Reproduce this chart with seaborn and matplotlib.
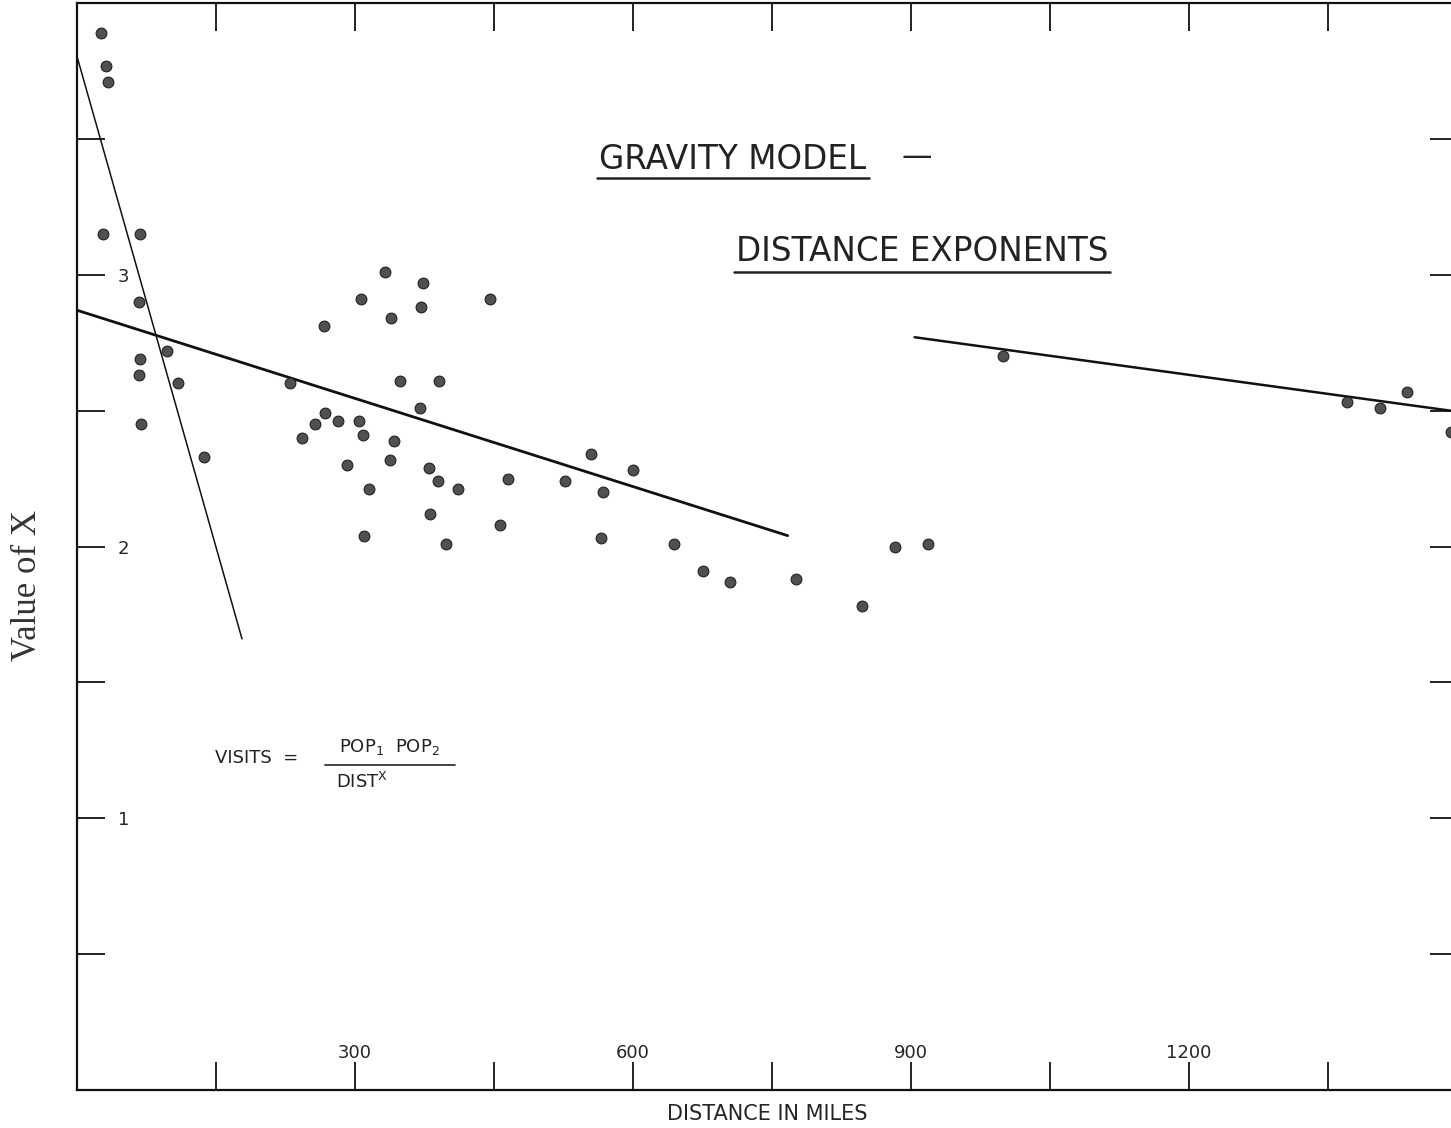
import matplotlib
matplotlib.use("Agg")
import matplotlib.pyplot as plt
from matplotlib.lines import Line2D
import seaborn as sns
import pandas as pd

# distance between city pairs (miles) and fitted distance exponent X
distance = [26, 32, 34, 29, 68, 67, 98, 68, 67, 110, 70, 137,
            230, 257, 243, 333, 374, 307, 446, 372, 339, 267, 349, 391,
            371, 268, 282, 305, 309, 342, 292, 338, 380, 390, 412, 465,
            527, 316, 381, 457, 310, 399,
            555, 600, 568, 566, 644, 676, 705, 776, 847, 883, 918,
            999, 1370, 1406, 1435, 1482]
exponent = [3.89, 3.77, 3.71, 3.15, 3.15, 2.90, 2.72, 2.69, 2.63, 2.60, 2.45, 2.33,
            2.60, 2.45, 2.40, 3.01, 2.97, 2.91, 2.91, 2.88, 2.84, 2.81, 2.61, 2.61,
            2.51, 2.49, 2.46, 2.46, 2.41, 2.39, 2.30, 2.32, 2.29, 2.24, 2.21, 2.25,
            2.24, 2.21, 2.12, 2.08, 2.04, 2.01,
            2.34, 2.28, 2.20, 2.03, 2.01, 1.91, 1.87, 1.88, 1.78, 2.00, 2.01,
            2.70, 2.53, 2.51, 2.57, 2.42]

# hand-fitted lines (end points)
steep_x = [0, 178.5]
steep_y = [3.81, 1.66]
mid_x = [0, 767]
mid_y = [2.87, 2.04]
far_x = [904, 1490]
far_y = [2.77, 2.496]

x_ticks = [150, 300, 450, 600, 750, 900, 1050, 1200, 1350]
x_tick_labels = ["", "300", "", "600", "", "900", "", "1200", ""]
y_ticks = [0.5, 1.0, 1.5, 2.0, 2.5, 3.0, 3.5]
y_tick_labels = ["", "1", "", "2", "", "3", ""]

W, H = 1451, 1128

sns.set_style("white")
plt.rcParams["font.family"] = ["DejaVu Sans"]

fig = plt.figure(figsize=(W / 100, H / 100), dpi=100)
ax = fig.add_axes([76.5 / W, 38 / H, (1458 - 76.5) / W, 1087 / H])

df = pd.DataFrame({"Distance": distance, "X": exponent})
sns.scatterplot(data=df, x="Distance", y="X", ax=ax, s=60,
                color="#505050", edgecolor="#222222", linewidth=0.8,
                zorder=3, clip_on=False)

for lx, ly, lw in [(steep_x, steep_y, 1.1), (mid_x, mid_y, 2.0), (far_x, far_y, 1.8)]:
    seg = pd.DataFrame({"Distance": lx, "X": ly})
    sns.lineplot(data=seg, x="Distance", y="X", ax=ax, color="#111111",
                 linewidth=lw, estimator=None, sort=False)

ax.set_xlim(0, 1490)
ax.set_ylim(0, 4.0)
ax.set_xticks(x_ticks)
ax.set_xticklabels(x_tick_labels, fontsize=13)
ax.set_yticks(y_ticks)
ax.set_yticklabels(y_tick_labels, fontsize=13)

ax.tick_params(axis="both", direction="in", length=20, width=1.3,
               color="#111111", top=True, right=True, bottom=True, left=True,
               labeltop=False, labelright=False)
ax.tick_params(axis="y", pad=-38)
ax.tick_params(axis="x", pad=-33)
for s in ax.spines.values():
    s.set_visible(True)
    s.set_color("#111111")
    s.set_linewidth(1.6)

ax.set_xlabel("DISTANCE IN MILES", fontsize=15)
ax.xaxis.set_label_coords(0.5, -0.013)
ax.set_ylabel("")
fig.text(27 / W, 1 - 586 / H, "Value of X", rotation=90, ha="center",
         va="center", fontsize=25, family=["Liberation Serif", "DejaVu Serif"],
         color="#333333")


def fpos(x, y):
    return x / W, 1 - y / H


# title block
t1 = fig.text(*fpos(733, 169), "GRAVITY MODEL", ha="center", va="baseline",
              fontsize=23.5, color="#222222")
fig.text(*fpos(917, 157), "\u2014", ha="center", va="center",
         fontsize=22, color="#222222")
t2 = fig.text(*fpos(922, 261), "DISTANCE EXPONENTS", ha="center",
              va="baseline", fontsize=23.5, color="#222222")

# formula
fig.text(*fpos(215, 763), "VISITS  =", ha="left", va="baseline",
         fontsize=13, color="#222222")
fig.text(*fpos(389, 752), r"POP$_1$  POP$_2$", ha="center", va="baseline",
         fontsize=13, color="#222222")
fig.text(*fpos(362, 788), r"DIST$^{\mathrm{X}}$", ha="center", va="baseline",
         fontsize=13, color="#222222")
fig.add_artist(Line2D([325 / W, 455 / W], [1 - 765 / H, 1 - 765 / H],
                      transform=fig.transFigure, color="#222222", linewidth=1.2))

# underlines under title words
fig.canvas.draw()
renderer = fig.canvas.get_renderer()
for t, uy in [(t1, 178), (t2, 272)]:
    bb = t.get_window_extent(renderer)
    fig.add_artist(Line2D([(bb.x0 - 2) / W, (bb.x1 + 2) / W],
                          [1 - uy / H, 1 - uy / H],
                          transform=fig.transFigure, color="#222222",
                          linewidth=1.8))

fig.savefig("out.png", dpi=100)
